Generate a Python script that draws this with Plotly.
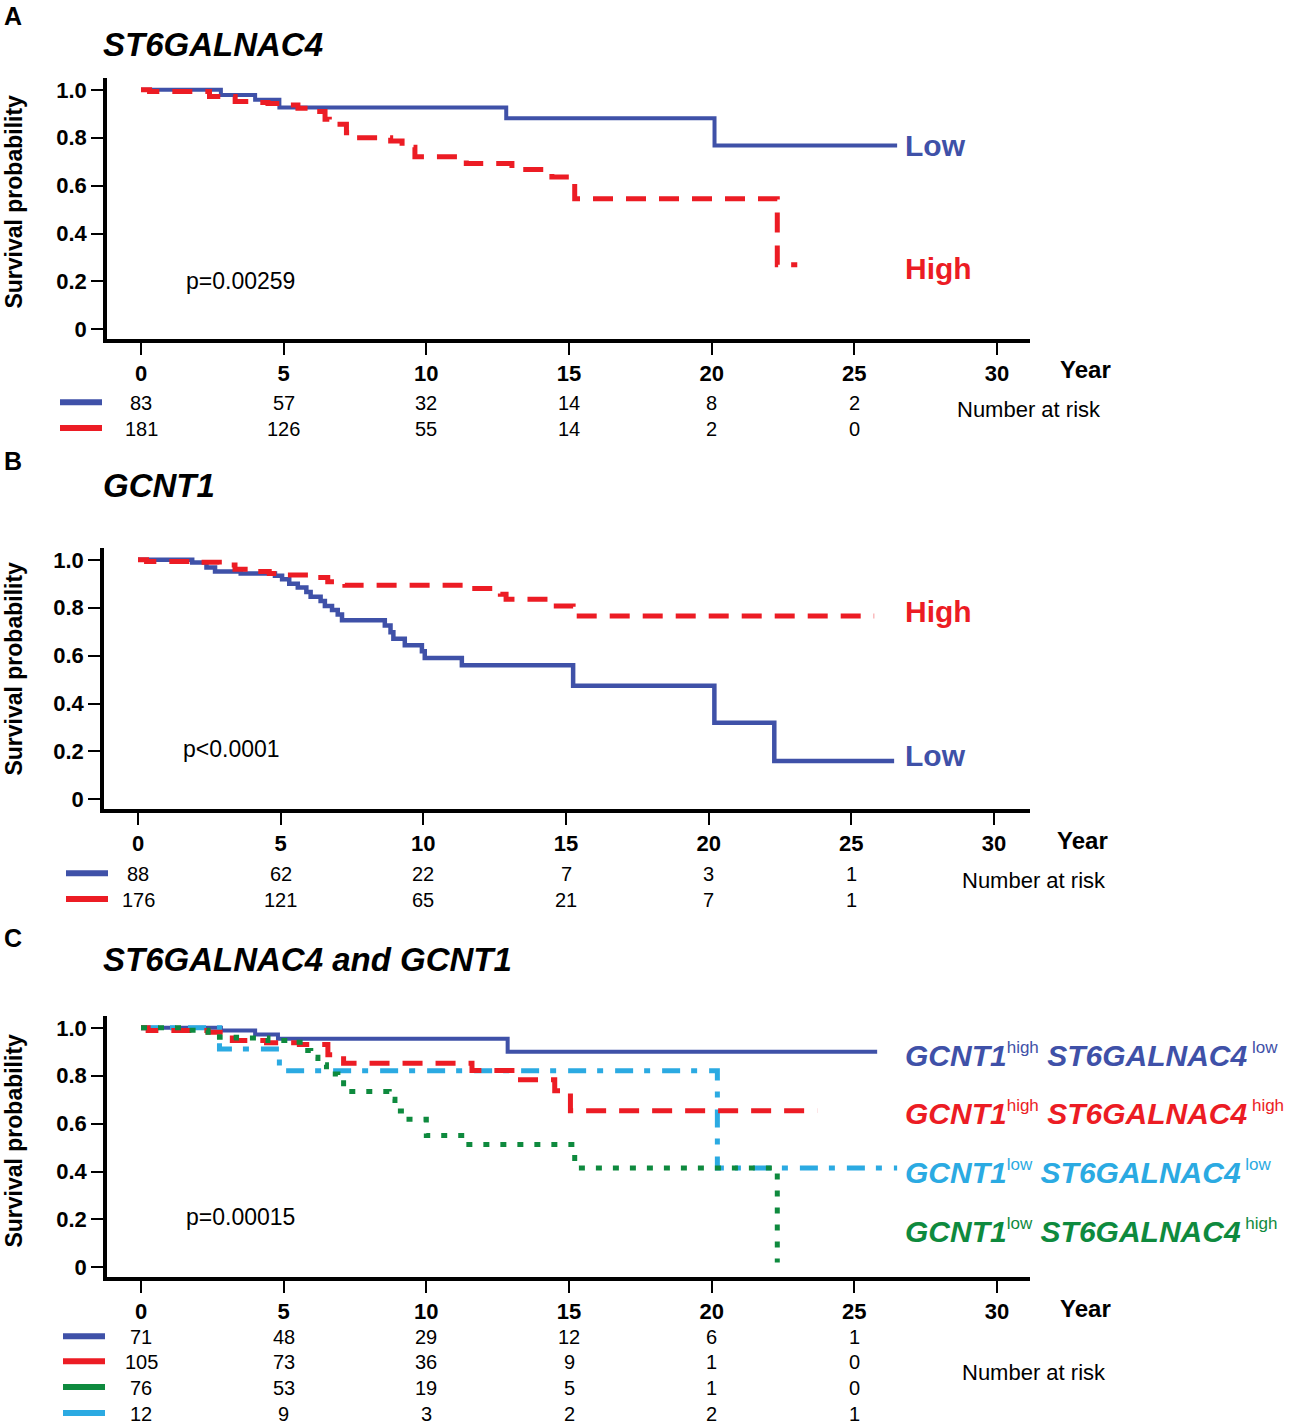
import plotly.graph_objects as go

# ---- data ----
x_ticks = [0, 5, 10, 15, 20, 25, 30]
y_ticks = [0, 0.2, 0.4, 0.6, 0.8, 1.0]
y_tick_text = ['0', '0.2', '0.4', '0.6', '0.8', '1.0']
risk_years = [0, 5, 10, 15, 20, 25]

# panel A: ST6GALNAC4
a_low_t = [0, 2.8, 4.0, 4.85, 12.8, 20.1, 26.5]
a_low_s = [1.0, 0.978, 0.958, 0.926, 0.881, 0.767, 0.767]
a_high_t = [0, 0.3, 2.4, 3.3, 3.9, 4.45, 4.85, 5.5, 5.85, 6.45, 6.6, 7.2, 7.35, 8.75,
            9.15, 9.6, 11.4, 13.0, 14.4, 15.2, 22.3, 23.0]
a_high_s = [1.0, 0.993, 0.972, 0.951, 0.947, 0.943, 0.937, 0.923, 0.909, 0.877, 0.856, 0.821, 0.80, 0.786,
            0.76, 0.72, 0.692, 0.667, 0.636, 0.545, 0.27, 0.27]
a_risk_low = [83, 57, 32, 14, 8, 2]
a_risk_high = [181, 126, 55, 14, 2, 0]

# panel B: GCNT1
b_low_t = [0, 1.9, 2.4, 2.7, 3.6, 4.8, 5.05, 5.3, 5.6, 5.9, 6.05, 6.4, 6.55, 6.8, 7.0, 7.15,
           8.65, 8.85, 8.95, 9.35, 9.95, 10.05, 11.35, 15.25, 20.2, 22.3, 26.5]
b_low_s = [1.0, 0.989, 0.968, 0.951, 0.943, 0.933, 0.919, 0.90, 0.884, 0.866, 0.846, 0.828, 0.807, 0.79, 0.772, 0.748,
           0.726, 0.698, 0.67, 0.643, 0.618, 0.59, 0.56, 0.474, 0.32, 0.16, 0.16]
b_high_t = [0, 0.3, 1.85, 2.85, 3.4, 4.0, 4.6, 4.9, 6.05, 6.65, 7.25, 11.5, 12.7, 12.9, 14.45, 15.25, 25.8]
b_high_s = [1.0, 0.993, 0.99, 0.978, 0.961, 0.951, 0.943, 0.937, 0.926, 0.908, 0.894, 0.88, 0.856, 0.835, 0.807, 0.765, 0.765]
b_risk_low = [88, 62, 22, 7, 3, 1]
b_risk_high = [176, 121, 65, 21, 7, 1]

# panel C: combined groups
c_hl_t = [0, 2.8, 4.0, 4.8, 12.85, 25.8]
c_hl_s = [1.0, 0.989, 0.972, 0.954, 0.90, 0.90]
c_hh_t = [0, 0.25, 2.35, 3.2, 4.4, 5.55, 6.55, 7.1, 11.6, 13.0, 14.5, 15.05, 23.7]
c_hh_s = [1.0, 0.989, 0.982, 0.947, 0.938, 0.93, 0.888, 0.852, 0.822, 0.783, 0.737, 0.654, 0.654]
c_lh_t = [0, 1.7, 2.35, 2.75, 3.35, 4.45, 5.4, 5.7, 5.95, 6.2, 6.5, 6.9, 7.1, 8.7, 8.9, 9.3, 10.0, 11.4, 15.2, 22.3]
c_lh_s = [1.0, 0.99, 0.982, 0.961, 0.958, 0.947, 0.94, 0.905, 0.877, 0.846, 0.807, 0.782, 0.734, 0.702, 0.653, 0.618, 0.55, 0.513, 0.415, 0.02]
c_ll_t = [0, 2.75, 4.85, 20.2, 26.5]
c_ll_s = [1.0, 0.912, 0.821, 0.415, 0.415]
c_risk_hl = [71, 48, 29, 12, 6, 1]
c_risk_hh = [105, 73, 36, 9, 1, 0]
c_risk_lh = [76, 53, 19, 5, 1, 0]
c_risk_ll = [12, 9, 3, 2, 2, 1]

BLUE = '#3F51A8'
RED = '#EC1C24'
GREEN = '#0E8A3E'
CYAN = '#2BAAE2'
FONT = 'Arial, Liberation Sans, sans-serif'

W, H = 1292, 1425


def px(x):
    return x / W


def py(y):
    return 1 - y / H


fig = go.Figure()

# pixel layout of the three panels: left spine, right end, x=0 px, 1.0 px, 0 px
panels = [
    dict(left=107, right=1030, x0=141, y1=90, y0=330),
    dict(left=104, right=1030, x0=138, y1=561, y0=801),
    dict(left=107, right=1030, x0=141, y1=1030, y0=1270),
]
scale = (997 - 141) / 30.0

for i, p in enumerate(panels):
    n = '' if i == 0 else str(i + 1)
    yunit = (p['y0'] - p['y1'])
    bottom = p['y0'] + 10
    top = p['y1'] - 12
    fig.layout['xaxis' + n] = dict(
        domain=[px(p['left']), px(p['right'])],
        range=[-(p['x0'] - p['left']) / scale, (p['right'] - p['x0']) / scale],
        anchor='y' + n, showline=True, linewidth=3.5, linecolor='black',
        ticks='outside', ticklen=12, tickwidth=1.6, tickcolor='black',
        tickvals=x_ticks, tickfont=dict(family=FONT, size=22, color='black', weight='bold'),
        showgrid=False, zeroline=False)
    fig.layout['yaxis' + n] = dict(
        domain=[py(bottom), py(top)],
        range=[-(bottom - p['y0']) / yunit, 1 + (p['y1'] - top) / yunit],
        anchor='x' + n, showline=True, linewidth=3.5, linecolor='black',
        ticks='outside', ticklen=12, tickwidth=1.6, tickcolor='black',
        tickvals=y_ticks, ticktext=y_tick_text,
        tickfont=dict(family=FONT, size=22, color='black', weight='bold'),
        showgrid=False, zeroline=False)


def km(t, s, color, dash, width, axis):
    fig.add_trace(go.Scatter(x=t, y=s, mode='lines', line_shape='hv',
                             line=dict(color=color, dash=dash, width=width),
                             xaxis='x' + axis, yaxis='y' + axis, showlegend=False,
                             hoverinfo='skip'))


RED_DASH = '20px,13px'
GREEN_DOT = '6px,11px'
CYAN_DASHDOT = '18px,11px,6px,12px'

km(a_low_t, a_low_s, BLUE, 'solid', 4, '')
km(a_high_t, a_high_s, RED, RED_DASH, 5, '')
km(b_low_t, b_low_s, BLUE, 'solid', 4.5, '2')
km(b_high_t, b_high_s, RED, RED_DASH, 5, '2')
km(c_hl_t, c_hl_s, BLUE, 'solid', 4, '3')
km(c_ll_t, c_ll_s, CYAN, CYAN_DASHDOT, 5, '3')
km(c_hh_t, c_hh_s, RED, RED_DASH, 5, '3')
km(c_lh_t, c_lh_s, GREEN, GREEN_DOT, 5, '3')

ann = []
shapes = []


def text(x, y, s, size=20, color='black', anchor='left', bold=False, angle=0, italic=False):
    ann.append(dict(x=px(x), y=py(y), xref='paper', yref='paper', text=s, showarrow=False,
                    xanchor=anchor, yanchor='middle', textangle=angle,
                    font=dict(family=FONT, size=size, color=color,
                              weight='bold' if bold else 'normal',
                              style='italic' if italic else 'normal')))


# panel letters, titles, axis titles
text(2, 16, 'A', 25, bold=True)
text(2, 462, 'B', 25, bold=True)
text(2, 940, 'C', 25, bold=True)
text(101, 45, 'ST6GALNAC4', 33, bold=True, italic=True)
text(101, 487, 'GCNT1', 33, bold=True, italic=True)
text(101, 962, 'ST6GALNAC4 and GCNT1', 33, bold=True, italic=True)
for yc in [202, 670, 1143]:
    text(14, yc, 'Survival probability', 23, anchor='center', bold=True, angle=-90)

# p values
text(184, 282, 'p=0.00259', 23)
text(181, 751, 'p<0.0001', 23)
text(184, 1220, 'p=0.00015', 23)

# curve labels
text(903, 146, 'Low', 30, BLUE, bold=True)
text(903, 269, 'High', 30, RED, bold=True)
text(903, 613, 'High', 30, RED, bold=True)
text(903, 757, 'Low', 30, BLUE, bold=True)
groups = [('high', 'low', BLUE, 1057), ('high', 'high', RED, 1115),
          ('low', 'low', CYAN, 1174), ('low', 'high', GREEN, 1234)]
sup = '<sup><span style="font-size:17px">%s</span></sup>'
for g, s, col, yc in groups:
    label = '<b><i>GCNT1</i></b>' + sup % g + ' <b><i>ST6GALNAC4</i></b>' + sup % (' ' + s)
    text(903, yc, label, 30, col)

# Year / Number at risk
text(1085, 370, 'Year', 24, anchor='center', bold=True)
text(1082, 842, 'Year', 24, anchor='center', bold=True)
text(1085, 1311, 'Year', 24, anchor='center', bold=True)
text(1029, 410, 'Number at risk', 22, anchor='center')
text(1034, 882, 'Number at risk', 22, anchor='center')
text(1034, 1375, 'Number at risk', 22, anchor='center')

# risk tables
tables = [
    ('', [(a_risk_low, BLUE, 404), (a_risk_high, RED, 430)], 60),
    ('2', [(b_risk_low, BLUE, 876), (b_risk_high, RED, 902)], 66),
    ('3', [(c_risk_hl, BLUE, 1340), (c_risk_hh, RED, 1365),
           (c_risk_lh, GREEN, 1391), (c_risk_ll, CYAN, 1417)], 63),
]
for axis, rows, lx in tables:
    for counts, col, yc in rows:
        for yr, n in zip(risk_years, counts):
            ann.append(dict(x=yr, y=py(yc), xref='x' + axis, yref='paper', text=str(n),
                            showarrow=False, xanchor='center', yanchor='middle',
                            font=dict(family=FONT, size=20, color='black')))
        shapes.append(dict(type='line', xref='paper', yref='paper',
                           x0=px(lx), x1=px(lx + 42), y0=py(yc - 1), y1=py(yc - 1),
                           line=dict(color=col, width=6)))

fig.update_layout(width=W, height=H, margin=dict(l=0, r=0, t=0, b=0),
                  paper_bgcolor='white', plot_bgcolor='white',
                  annotations=ann, shapes=shapes, showlegend=False)

# drop the default page margin so the figure starts at the window corner
fig.write_html('out.html', config={'displayModeBar': False},
               post_script="document.body.style.margin='0';")
